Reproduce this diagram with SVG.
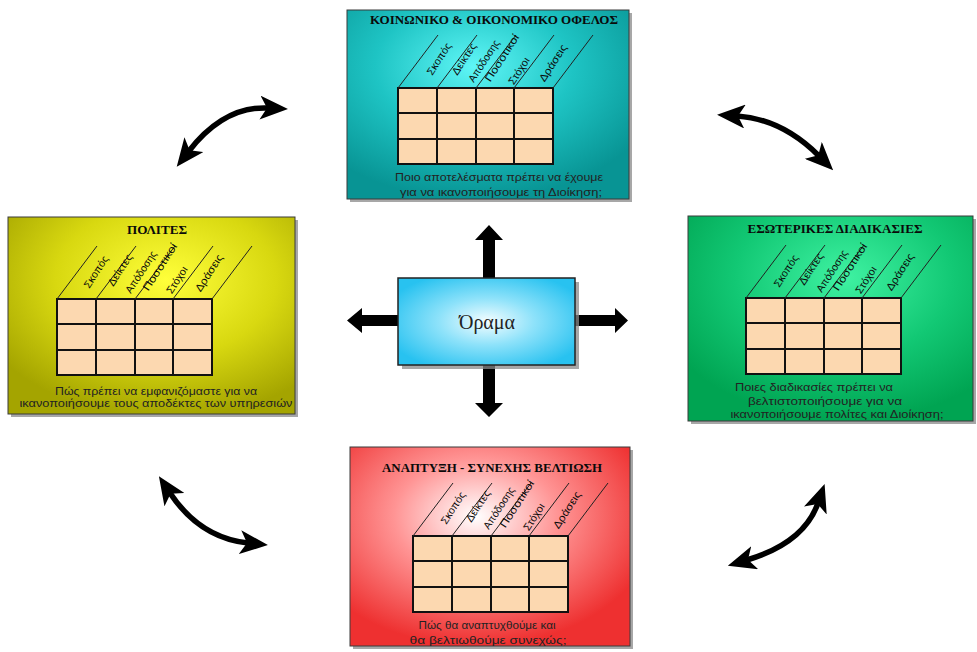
<svg xmlns="http://www.w3.org/2000/svg" xmlns:xlink="http://www.w3.org/1999/xlink" width="977" height="652" viewBox="0 0 977 652">
<style>
.shadow{fill:#8a8a8a;opacity:0.75}
.box{stroke:#3a3a3a;stroke-width:1}
.title{font-family:"Liberation Serif","DejaVu Serif",serif;font-weight:bold;font-size:11.5px;fill:#0a0a0a;text-anchor:middle}
.q{font-family:"Liberation Sans","DejaVu Sans",sans-serif;font-size:10px;fill:#222;text-anchor:middle}
.lab{font-family:"Liberation Sans","DejaVu Sans",sans-serif;font-size:10.5px;fill:#0a0a0a;text-anchor:middle}
.cell{fill:#fcd8b0;stroke:#111;stroke-width:2}
.gl{stroke:#111;stroke-width:2;fill:none}
.dg{stroke:#222;stroke-width:1;fill:none}
.curve{fill:none;stroke:#000;stroke-width:5.5;marker-start:url(#barb);marker-end:url(#barb)}
.big{fill:#000}
</style>
<defs>
<radialGradient id="gTeal" cx="0.45" cy="0.3" r="0.7"><stop offset="0" stop-color="#5ff6f6"/><stop offset="0.5" stop-color="#1ec4c4"/><stop offset="1" stop-color="#089494"/></radialGradient>
<radialGradient id="gYel" cx="0.55" cy="0.32" r="0.7"><stop offset="0" stop-color="#ffff3a"/><stop offset="0.55" stop-color="#d8d810"/><stop offset="1" stop-color="#a4a400"/></radialGradient>
<radialGradient id="gGrn" cx="0.55" cy="0.3" r="0.7"><stop offset="0" stop-color="#3ff2a2"/><stop offset="0.55" stop-color="#12c874"/><stop offset="1" stop-color="#00a452"/></radialGradient>
<radialGradient id="gRed" cx="0.45" cy="0.35" r="0.65"><stop offset="0" stop-color="#ffffff"/><stop offset="0.45" stop-color="#ff9494"/><stop offset="1" stop-color="#ee3030"/></radialGradient>
<radialGradient id="gCyan" cx="0.5" cy="0.5" r="0.6"><stop offset="0" stop-color="#f4fdff"/><stop offset="0.45" stop-color="#8ee2fa"/><stop offset="1" stop-color="#28c2f0"/></radialGradient>
<marker id="barb" viewBox="0 0 28 24" markerWidth="28" markerHeight="24" refX="8" refY="12" orient="auto-start-reverse" markerUnits="userSpaceOnUse">
<path d="M0,0 L28,12 L0,24 L7,12 Z" fill="#000"/>
</marker>
<g id="grid">
<rect class="cell" x="0" y="0" width="155" height="76"/>
<path class="gl" d="M39,0V76 M78,0V76 M116,0V76 M0,25H155 M0,51H155"/>
<path class="dg" d="M0,0l40,-53 M39,0l40,-53 M78,0l40,-53 M116,0l40,-53 M155,0l40,-53"/>
</g>
</defs>
<rect width="977" height="652" fill="#ffffff"/>

<g id="connectors">
<path class="curve" d="M189,151 Q224,106 268,108"/>
<path class="curve" d="M737,116 Q782,119 819,156"/>
<path class="curve" d="M170,493 Q200,538 248,543"/>
<path class="curve" d="M747,560 Q804,543 818,503"/>
<polygon class="big" points="483,278 483,240 475,240 489,225 503,240 495,240 495,278"/>
<polygon class="big" points="483,365 483,403 475,403 489,417 503,403 495,403 495,365"/>
<polygon class="big" points="398,315 362,315 362,308 347,320.5 362,333 362,326 398,326"/>
<polygon class="big" points="575,315 615,315 615,308 628,320.5 615,333 615,326 575,326"/>
</g>

<g id="node-vision">
<rect class="shadow" x="402" y="282" width="177" height="87"/>
<rect x="398" y="278" width="177" height="87" fill="url(#gCyan)" stroke="#222" stroke-width="1.5"/>
<text x="487" y="329" font-family="'Liberation Serif','DejaVu Serif',serif" font-size="20" fill="#222" text-anchor="middle">Όραμα</text>
</g>

<g id="node-financial">
<rect class="shadow" x="350" y="13" width="282" height="189"/>
<rect class="box" x="347" y="10" width="282" height="189" fill="url(#gTeal)"/>
<text class="title" x="494" y="24" textLength="248" lengthAdjust="spacingAndGlyphs">ΚΟΙΝΩΝΙΚΟ &amp; ΟΙΚΟΝΟΜΙΚΟ ΟΦΕΛΟΣ</text>
<g transform="translate(398,88)">
<use xlink:href="#grid"/>
<text class="lab" transform="translate(41,-29) rotate(-57)" dy="3.5" textLength="36" lengthAdjust="spacingAndGlyphs">Σκοπός</text>
<text class="lab" transform="translate(66,-29) rotate(-57)" dy="3.5" textLength="36" lengthAdjust="spacingAndGlyphs">Δείκτες</text>
<text class="lab" transform="translate(86,-27) rotate(-57)" dy="3.5" textLength="48" lengthAdjust="spacingAndGlyphs">Απόδοσης</text>
<text class="lab" transform="translate(104,-30) rotate(-57)" dy="3.5" textLength="54" lengthAdjust="spacingAndGlyphs">Ποσοτικοί</text>
<text class="lab" transform="translate(121,-17) rotate(-57)" dy="3.5" textLength="30" lengthAdjust="spacingAndGlyphs">Στόχοι</text>
<text class="lab" transform="translate(155,-25) rotate(-57)" dy="3.5" textLength="42" lengthAdjust="spacingAndGlyphs">Δράσεις</text>
</g>
<text class="q" x="499" y="181" textLength="208" lengthAdjust="spacingAndGlyphs">Ποιο αποτελέσματα πρέπει  να έχουμε</text>
<text class="q" x="501" y="196" textLength="202" lengthAdjust="spacingAndGlyphs">για  να ικανοποιήσουμε τη Διοίκηση;</text>
</g>

<g id="node-citizens">
<rect class="shadow" x="11" y="220" width="287" height="197"/>
<rect class="box" x="8" y="217" width="287" height="197" fill="url(#gYel)"/>
<text class="title" x="157" y="234" textLength="60" lengthAdjust="spacingAndGlyphs">ΠΟΛΙΤΕΣ</text>
<g transform="translate(57,299)">
<use xlink:href="#grid"/>
<text class="lab" transform="translate(39,-27) rotate(-57)" dy="3.5" textLength="36" lengthAdjust="spacingAndGlyphs">Σκοπός</text>
<text class="lab" transform="translate(63,-29) rotate(-57)" dy="3.5" textLength="36" lengthAdjust="spacingAndGlyphs">Δείκτες</text>
<text class="lab" transform="translate(84,-27) rotate(-57)" dy="3.5" textLength="48" lengthAdjust="spacingAndGlyphs">Απόδοσης</text>
<text class="lab" transform="translate(103,-32) rotate(-57)" dy="3.5" textLength="54" lengthAdjust="spacingAndGlyphs">Ποσοτικοί</text>
<text class="lab" transform="translate(120,-19) rotate(-57)" dy="3.5" textLength="30" lengthAdjust="spacingAndGlyphs">Στόχοι</text>
<text class="lab" transform="translate(152,-26) rotate(-57)" dy="3.5" textLength="42" lengthAdjust="spacingAndGlyphs">Δράσεις</text>
</g>
<text class="q" x="156" y="395" textLength="202" lengthAdjust="spacingAndGlyphs">Πώς πρέπει να εμφανιζόμαστε για να</text>
<text class="q" x="156" y="407" textLength="273" lengthAdjust="spacingAndGlyphs">ικανοποιήσουμε τους αποδέκτες των υπηρεσιών</text>
</g>

<g id="node-processes">
<rect class="shadow" x="691" y="219" width="285" height="205"/>
<rect class="box" x="688" y="216" width="285" height="205" fill="url(#gGrn)"/>
<text class="title" x="835" y="233" textLength="175" lengthAdjust="spacingAndGlyphs">ΕΣΩΤΕΡΙΚΕΣ ΔΙΑΔΙΚΑΣΙΕΣ</text>
<g transform="translate(746,298)">
<use xlink:href="#grid"/>
<text class="lab" transform="translate(40,-27) rotate(-57)" dy="3.5" textLength="36" lengthAdjust="spacingAndGlyphs">Σκοπός</text>
<text class="lab" transform="translate(65,-29) rotate(-57)" dy="3.5" textLength="36" lengthAdjust="spacingAndGlyphs">Δείκτες</text>
<text class="lab" transform="translate(86,-27) rotate(-57)" dy="3.5" textLength="48" lengthAdjust="spacingAndGlyphs">Απόδοσης</text>
<text class="lab" transform="translate(104,-31) rotate(-57)" dy="3.5" textLength="54" lengthAdjust="spacingAndGlyphs">Ποσοτικοί</text>
<text class="lab" transform="translate(120,-18) rotate(-57)" dy="3.5" textLength="30" lengthAdjust="spacingAndGlyphs">Στόχοι</text>
<text class="lab" transform="translate(154,-26) rotate(-57)" dy="3.5" textLength="42" lengthAdjust="spacingAndGlyphs">Δράσεις</text>
</g>
<text class="q" x="814" y="391" textLength="158" lengthAdjust="spacingAndGlyphs">Ποιες διαδικασίες πρέπει  να</text>
<text class="q" x="825" y="405" textLength="154" lengthAdjust="spacingAndGlyphs">βελτιστοποιήσουμε για να</text>
<text class="q" x="837" y="418" textLength="213" lengthAdjust="spacingAndGlyphs">ικανοποιήσουμε πολίτες και Διοίκηση;</text>
</g>

<g id="node-growth">
<rect class="shadow" x="353" y="450" width="280" height="199"/>
<rect class="box" x="350" y="447" width="280" height="199" fill="url(#gRed)"/>
<text class="title" x="492" y="472" textLength="220" lengthAdjust="spacingAndGlyphs">ΑΝΑΠΤΥΞΗ - ΣΥΝΕΧΗΣ ΒΕΛΤΙΩΣΗ</text>
<g transform="translate(413,536)">
<use xlink:href="#grid"/>
<text class="lab" transform="translate(40,-28) rotate(-57)" dy="3.5" textLength="36" lengthAdjust="spacingAndGlyphs">Σκοπός</text>
<text class="lab" transform="translate(65,-30) rotate(-57)" dy="3.5" textLength="36" lengthAdjust="spacingAndGlyphs">Δείκτες</text>
<text class="lab" transform="translate(86,-28) rotate(-57)" dy="3.5" textLength="48" lengthAdjust="spacingAndGlyphs">Απόδοσης</text>
<text class="lab" transform="translate(104,-32) rotate(-57)" dy="3.5" textLength="54" lengthAdjust="spacingAndGlyphs">Ποσοτικοί</text>
<text class="lab" transform="translate(121,-19) rotate(-57)" dy="3.5" textLength="30" lengthAdjust="spacingAndGlyphs">Στόχοι</text>
<text class="lab" transform="translate(154,-26) rotate(-57)" dy="3.5" textLength="42" lengthAdjust="spacingAndGlyphs">Δράσεις</text>
</g>
<text class="q" x="487" y="629" textLength="137" lengthAdjust="spacingAndGlyphs">Πώς θα αναπτυχθούμε και</text>
<text class="q" x="488" y="644" textLength="157" lengthAdjust="spacingAndGlyphs">θα βελτιωθούμε συνεχώς;</text>
</g>
</svg>
